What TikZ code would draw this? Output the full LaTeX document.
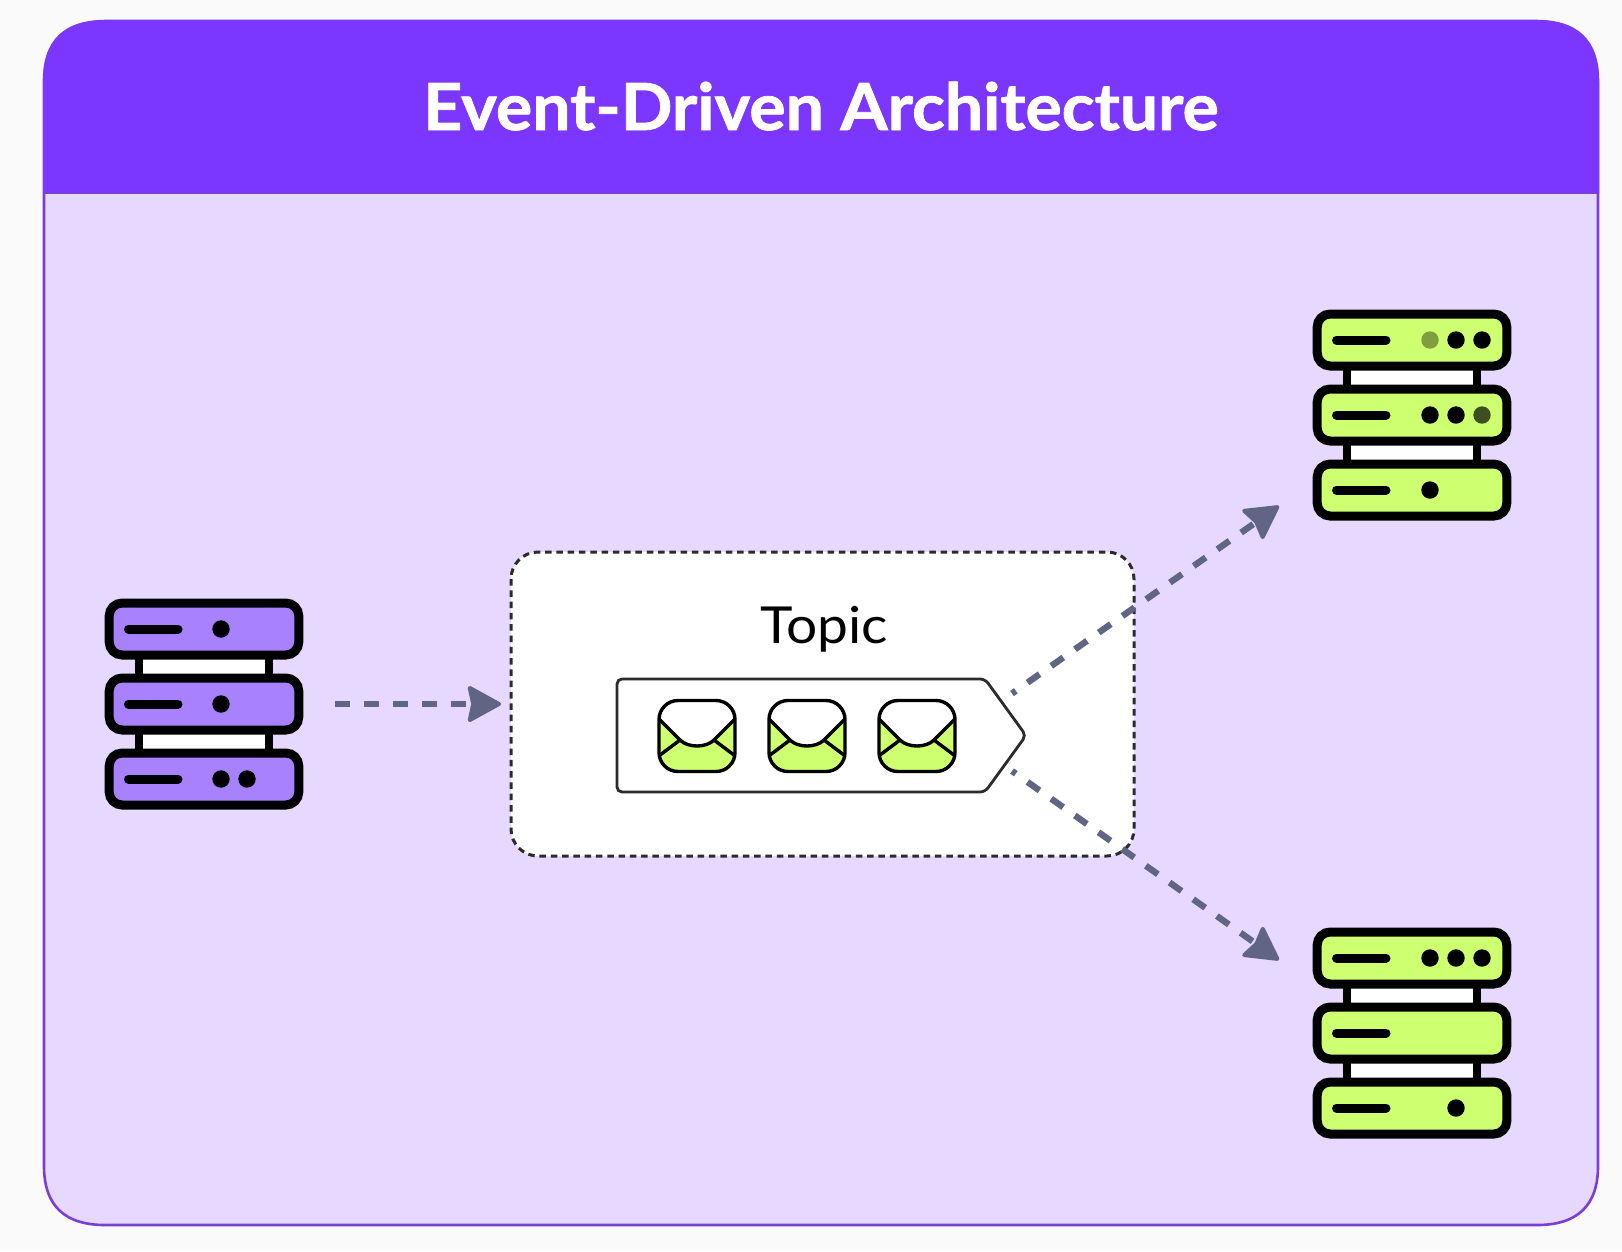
\documentclass[tikz,border=0pt]{standalone}
\usepackage{fontspec}
\setmainfont{Lato}
\usetikzlibrary{arrows.meta,calc}
\definecolor{pagebg}{HTML}{FAFAFA}
\definecolor{framefill}{HTML}{E6D8FF}
\definecolor{headfill}{HTML}{7B36FF}
\definecolor{frameline}{HTML}{7B3FD6}
\definecolor{srvpurple}{HTML}{A881FF}
\definecolor{srvgreen}{HTML}{CDFF70}
\definecolor{arrowgrey}{HTML}{5F6583}
\definecolor{boxline}{HTML}{2B2B2B}
\definecolor{dotolive}{HTML}{7F9E3E}
\definecolor{dotdark}{HTML}{3E4F1F}
\tikzset{
  x=1pt,y=-1pt,
  framepath/.style={line width=2.6pt,draw=frameline,fill=framefill},
  unitbox/.style={line width=9pt,draw=black,rounded corners=13pt},
  linkbar/.style={line width=8.5pt,draw=black,fill=white},
  ledbar/.style={line width=9pt,draw=black,line cap=round},
  flow/.style={line width=6.4pt,draw=arrowgrey,dash pattern=on 14.7pt off 14.3pt,
    -{Stealth[length=36pt,width=39pt,inset=4pt,round,line width=4pt]}},
  topicarea/.style={line width=3pt,draw=boxline,fill=white,rounded corners=27pt,dash pattern=on 6.5pt off 4.8pt},
  queue/.style={line width=2.8pt,draw=boxline,fill=white,rounded corners=5pt},
  envline/.style={line width=3.4pt,draw=black,line join=round,line cap=round},
}
\newcommand{\serverframe}[3]{%
  \foreach \r in {0,1} {
    \path[linkbar] (#1+33.75,#2+\r*75+20) rectangle (#1+163.75,#2+\r*75+55);
  }
  \foreach \r in {0,1,2} {
    \path[unitbox,fill=#3] (#1+4.2,#2+\r*75-26) rectangle (#1+193.8,#2+\r*75+26);
    \path[ledbar] (#1+23.5,#2+\r*75) -- (#1+73,#2+\r*75);
  }
}
\newcommand{\srvdot}[3][black]{\fill[#1] (#2,#3) circle (8.7pt);}
\newcommand{\envelope}[1]{%
  \begin{scope}[shift={(#1,700.5)}]
    \path[fill=srvgreen,rounded corners=19pt] (0,0) rectangle (76,71);
    \begin{scope}
      \path[clip,rounded corners=19pt] (0,0) rectangle (76,71);
      \fill[white] (-1,-1) -- (77,-1) -- (77,17.5) -- (55,39.5) .. controls (47,47.5) and (29,47.5) .. (21,39.5) -- (-1,17.5) -- cycle;
      \path[envline] (-1,17.5) -- (21,39.5) .. controls (29,47.5) and (47,47.5) .. (55,39.5) -- (77,17.5);
      \path[envline] (-1,56) -- (21,39.5);
      \path[envline] (77,56) -- (55,39.5);
    \end{scope}
    \path[envline,rounded corners=19pt] (0,0) rectangle (76,71);
  \end{scope}
}
\begin{document}
\begin{tikzpicture}
\useasboundingbox (0,0) rectangle (1622,1251);
\fill[pagebg] (0,0) rectangle (1622,1251);
\path[framepath] (44,82) .. controls (44,40) and (65,21) .. (107,21)
  -- (1535,21) .. controls (1577,21) and (1598,40) .. (1598,82)
  -- (1598,1166) .. controls (1598,1206) and (1577,1225) .. (1537,1225)
  -- (105,1225) .. controls (65,1225) and (44,1206) .. (44,1166) -- cycle;
\fill[headfill] (43,193) -- (43,82) .. controls (43,40) and (65,20) .. (107,20)
  -- (1535,20) .. controls (1577,20) and (1599,40) .. (1599,82) -- (1599,193) -- cycle;
\draw[frameline,line width=1.5pt] (45,193) -- (1597,193);
\node[text=white,font=\fontsize{65}{67}\selectfont\bfseries\addfontfeature{FakeStretch=1.046,FakeBold=1.2},inner sep=0pt,anchor=base] (title) at (821,130) {Event-Driven Architecture};
\serverframe{105}{629}{srvpurple}
\srvdot{221}{629}\srvdot{221}{704}\srvdot{221}{779}\srvdot{247}{779}
\serverframe{1313}{340}{srvgreen}
\srvdot[dotolive]{1430}{340}\srvdot{1456}{340}\srvdot{1482}{340}
\srvdot{1430}{415}\srvdot{1456}{415}\srvdot[dotdark]{1482}{415}
\srvdot{1430}{490}
\serverframe{1313}{958}{srvgreen}
\srvdot{1430}{958}\srvdot{1456}{958}\srvdot{1482}{958}
\srvdot{1456}{1108}
\coordinate (producerOut) at (335,704);
\coordinate (topicIn) at (501,704);
\coordinate (topicOutUp) at (1012,693.5);
\coordinate (consumerAIn) at (1279,506);
\coordinate (topicOutDown) at (1012,771);
\coordinate (consumerBIn) at (1279,960);
\path[topicarea] (511,552) rectangle (1134,856);
\node[font=\fontsize{51}{53}\selectfont\addfontfeature{FakeStretch=1.08},inner sep=0pt,anchor=base,text=black] (topic) at (824,643) {Topic};
\path[queue] (617,679) -- (985,679) -- (1026,735.5) -- (985,792) -- (617,792) -- cycle;
\envelope{659}\envelope{769}\envelope{879}
\draw[flow] (producerOut) -- (topicIn);
\draw[flow,dash phase=10pt] (topicOutUp) -- (consumerAIn);
\draw[flow,dash phase=10pt] (topicOutDown) -- (consumerBIn);
\end{tikzpicture}
\end{document}
